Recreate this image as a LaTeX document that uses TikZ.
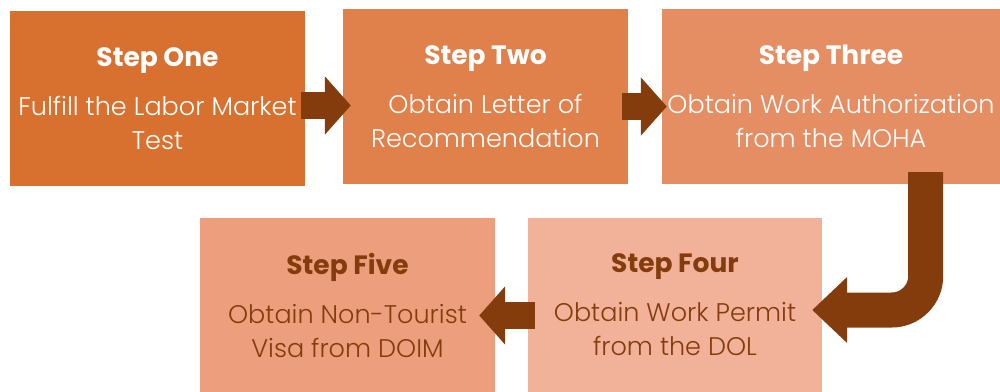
\documentclass[tikz,border=0pt]{standalone}
\usepackage{fontspec}
\setmainfont{Poppins Light}[BoldFont=Poppins Bold]
\usetikzlibrary{arrows.meta,positioning}

\definecolor{stepone}{HTML}{D87130}
\definecolor{steptwo}{HTML}{E0804A}
\definecolor{stepthree}{HTML}{E58D63}
\definecolor{stepfour}{HTML}{F2B199}
\definecolor{stepfive}{HTML}{ED9F7D}
\definecolor{arrowbrown}{HTML}{843C0C}

\newcommand{\steptitle}[1]{{\fontsize{26.5}{34}\selectfont\bfseries #1}}

\begin{document}
\begin{tikzpicture}[x=1pt,y=1pt,
    stepbox/.style={minimum height=175pt, inner sep=0pt, align=center,
      font=\fontsize{25.5}{34}\selectfont},
    blockarrow/.style={draw=arrowbrown, line width=27pt,
      -{Triangle[length=26pt,width=57pt]}}]
  \useasboundingbox (0,0) rectangle (1000,391);

  % top row
  \node[stepbox, fill=stepone, text=white, minimum width=295pt] (one) at (157.5,292.5)
    {\steptitle{Step One}\\[15pt]Fulfill the Labor Market\\Test};
  \node[stepbox, fill=steptwo, text=white, minimum width=285pt] (two) at (485.5,294.5)
    {\steptitle{Step Two}\\[15pt]Obtain Letter of\\Recommendation};
  \node[stepbox, fill=stepthree, text=white, minimum width=338pt] (three) at (831,294.5)
    {\steptitle{Step Three}\\[15pt]Obtain Work Authorization\\from the MOHA};

  % bottom row, runs right to left
  \node[stepbox, fill=stepfour, text=arrowbrown, minimum width=294pt, minimum height=174pt] (four) at (675,86)
    {\steptitle{Step Four}\\[15pt]Obtain Work Permit\\from the DOL};
  \node[stepbox, fill=stepfive, text=arrowbrown, minimum width=295pt, minimum height=174pt] (five) at (347.5,86)
    {\steptitle{Step Five}\\[15pt]Obtain Non-Tourist\\Visa from DOIM};

  % arrows between the steps
  \draw[blockarrow] ([shift={(-4,-7)}]one.east) coordinate (a1) -- ([xshift=8pt]a1 -| two.west);
  \draw[blockarrow] ([shift={(-6,-10)}]two.east) coordinate (a2) -- ([xshift=5pt]a2 -| three.west);
  \draw[draw=arrowbrown, line width=35pt, rounded corners=34pt,
      -{Triangle[length=35pt,width=64pt]}]
    ([shift={(-74.5,12)}]three.south east) |- ([shift={(-10,-5)}]four.east);
  \draw[blockarrow] ([shift={(7,-10.5)}]four.west) coordinate (a4) -- ([xshift=-16pt]a4 -| five.east);
\end{tikzpicture}
\end{document}
